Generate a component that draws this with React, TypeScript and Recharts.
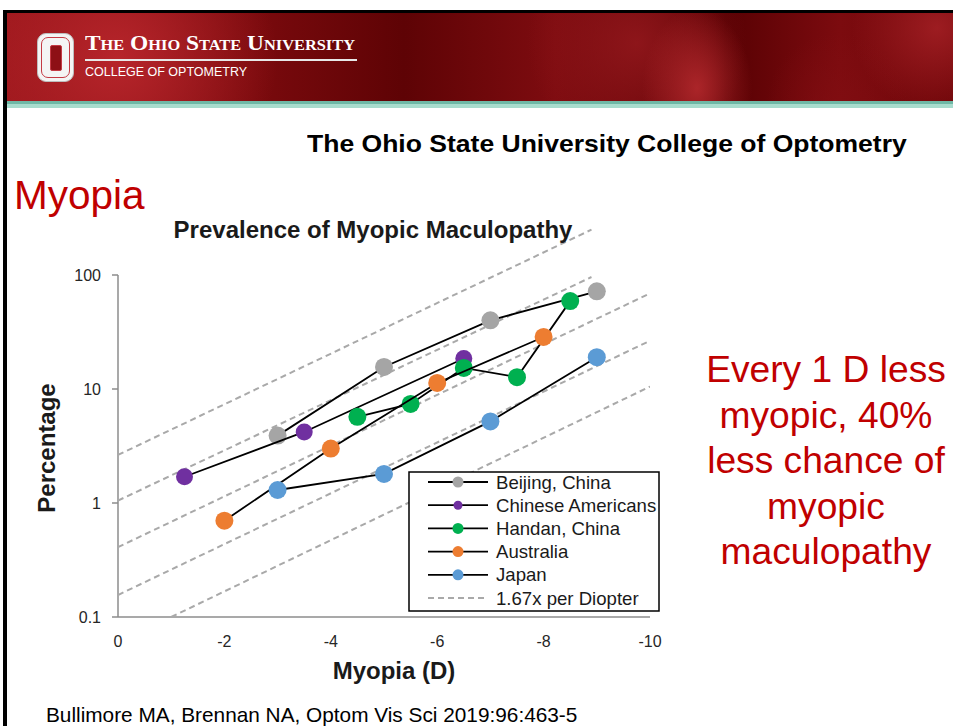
import React from 'react'
import { ScatterChart, Scatter, XAxis, YAxis, ReferenceLine } from 'recharts'

const FONT = '"Liberation Sans", Arial, Helvetica, sans-serif'

// myopia (D) vs prevalence of myopic maculopathy (%)
const beijingX = [-3, -5, -7, -9]
const beijingY = [3.9, 15.6, 40, 72]
const chineseAmX = [-1.25, -3.5, -6.5]
const chineseAmY = [1.7, 4.2, 18.5]
const handanX = [-4.5, -5.5, -6.5, -7.5, -8.5]
const handanY = [5.7, 7.4, 15.3, 12.7, 59]
const australiaX = [-2, -4, -6, -8]
const australiaY = [0.7, 3, 11.3, 28.6]
const japanX = [-3, -5, -7, -9]
const japanY = [1.3, 1.8, 5.2, 19]

// 1.67x per diopter guide lines (start, end)
const guideX = [[0, -8.9], [0, -8.9], [0, -10], [0, -10], [-1, -10]]
const guideY = [[2.64, 250], [1.05, 96], [0.41, 69], [0.156, 26.5], [0.1, 10.5]]

const xTicks = [0, -2, -4, -6, -8, -10]
const yTicks = [0.1, 1, 10, 100]

const seriesNames = ['Beijing, China', 'Chinese Americans', 'Handan, China', 'Australia', 'Japan']
const seriesColors = ['#a5a5a5', '#7030a0', '#00b050', '#ed7d31', '#5b9bd5']
const guideName = '1.67x per Diopter'

const zip = (xs: number[], ys: number[]) => xs.map((x, i) => ({ x, y: ys[i] }))

const series = [
  zip(beijingX, beijingY),
  zip(chineseAmX, chineseAmY),
  zip(handanX, handanY),
  zip(australiaX, australiaY),
  zip(japanX, japanY),
].map((data, i) => ({ data, name: seriesNames[i], color: seriesColors[i] }))

const guides = guideX.map((xs, i) => zip(xs, guideY[i]))

const AXIS = '#8c8c8c'
const GUIDE = '#a9a9a9'

const dot = (color: string, r: number) => (p: any) =>
  <circle cx={p.cx} cy={p.cy} r={r} fill={color} />

function Legend() {
  const rowY = (i: number) => 11 + i * 23.2
  return (
    <svg width={252} height={141} style={{ position: 'absolute', left: 408, top: 471, overflow: 'visible' }}>
      <rect x={1} y={1} width={250} height={139} fill="#fff" stroke="#000" strokeWidth={1.5} />
      {seriesNames.map((n, i) => (
        <g key={n}>
          <line x1={20} x2={80} y1={rowY(i)} y2={rowY(i)} stroke="#000" strokeWidth={1.8} />
          <circle cx={50} cy={rowY(i)} r={i === 1 ? 4.5 : 5.5} fill={seriesColors[i]} />
          <text x={88} y={rowY(i)} dominantBaseline="central" fontFamily={FONT} fontSize={18.6} fill="#1a1a1a">{n}</text>
        </g>
      ))}
      <line x1={20} x2={80} y1={rowY(5)} y2={rowY(5)} stroke={GUIDE} strokeWidth={2} strokeDasharray="6 4" />
      <text x={88} y={rowY(5)} dominantBaseline="central" fontFamily={FONT} fontSize={18.6} fill="#1a1a1a">{guideName}</text>
    </svg>
  )
}

function Banner() {
  return (
    <>
      <div style={{ position: 'absolute', left: 3, top: 10, width: 950, height: 3, background: '#000' }} />
      <div style={{ position: 'absolute', left: 3, top: 10, width: 4, height: 716, background: '#000' }} />
      <div
        style={{
          position: 'absolute', left: 7, top: 13, width: 946, height: 88,
          background: [
            'radial-gradient(circle at 110px 45px, rgba(185,38,44,0.95) 0, rgba(185,38,44,0) 160px)',
            'radial-gradient(ellipse 55px 80px at 690px 75px, rgba(178,40,44,0.9) 0, rgba(178,40,44,0) 100%)',
            'radial-gradient(circle at 630px 30px, rgba(150,25,30,0.8) 0, rgba(150,25,30,0) 110px)',
            'radial-gradient(circle at 930px 15px, rgba(165,32,37,0.85) 0, rgba(165,32,37,0) 85px)',
            'radial-gradient(circle at 830px 90px, rgba(130,14,18,0.7) 0, rgba(130,14,18,0) 70px)',
            'linear-gradient(90deg, #9a161b 0%, #7a0a0d 26%, #5e0305 42%, #7e0c10 58%, #580103 76%, #7c0b0f 88%, #6e0609 100%)',
          ].join(','),
        }}
      />
      <div style={{ position: 'absolute', left: 7, top: 101, width: 946, height: 3, background: '#6fb8a6' }} />
      <div style={{ position: 'absolute', left: 7, top: 104, width: 946, height: 4, background: '#a8dccd' }} />
      {/* block O */}
      <div style={{ position: 'absolute', left: 37, top: 33, width: 37, height: 49, background: '#f4f4f4', border: '1px solid #bdbdbd', borderRadius: 9, boxSizing: 'border-box' }}>
        <div style={{ position: 'absolute', left: 3, top: 3, right: 3, bottom: 3, border: '1.5px solid #c43a44', borderRadius: 7 }} />
        <div style={{ position: 'absolute', left: 12, top: 11, width: 10, height: 24, background: '#8e1015', border: '1.5px solid #c43a44', borderRadius: 2 }} />
      </div>
      <div style={{ position: 'absolute', left: 85, top: 33, color: '#fff', fontFamily: '"Liberation Serif", "DejaVu Serif", serif', fontWeight: 700, fontSize: 20, lineHeight: '20px', fontVariant: 'small-caps', whiteSpace: 'nowrap', transform: 'scaleX(1.17)', transformOrigin: 'left center' }}>
        The Ohio State University
      </div>
      <div style={{ position: 'absolute', left: 85, top: 59, width: 272, height: 1.5, background: '#e8e8e8' }} />
      <div style={{ position: 'absolute', left: 85, top: 66, color: '#fff', fontFamily: FONT, fontSize: 12.5, lineHeight: '12px', whiteSpace: 'nowrap' }}>
        COLLEGE OF OPTOMETRY
      </div>
    </>
  )
}

export default function App() {
  return (
    <div style={{ position: 'absolute', left: 0, top: 0, width: 953, height: 726, background: '#fff', overflow: 'hidden', fontFamily: FONT }}>
      <Banner />
      <div style={{ position: 'absolute', left: 307, top: 132, fontWeight: 700, fontSize: 24, lineHeight: '24px', color: '#000', whiteSpace: 'nowrap', transform: 'scaleX(1.105)', transformOrigin: 'left center' }}>
        The Ohio State University College of Optometry
      </div>
      <div style={{ position: 'absolute', left: 14, top: 175, fontSize: 40.5, lineHeight: '40px', color: '#c00000', whiteSpace: 'nowrap' }}>
        Myopia
      </div>
      <div style={{ position: 'absolute', left: 696, top: 347, width: 260, textAlign: 'center', fontSize: 37.2, lineHeight: '45.5px', color: '#c00000', whiteSpace: 'nowrap' }}>
        Every 1 D less<br />myopic, 40%<br />less chance of<br />myopic<br />maculopathy
      </div>
      <div style={{ position: 'absolute', left: 46, top: 704, fontSize: 20.8, lineHeight: '21px', color: '#000', whiteSpace: 'nowrap' }}>
        Bullimore MA, Brennan NA, Optom Vis Sci 2019:96:463-5
      </div>

      <div style={{ position: 'absolute', left: 0, top: 140 }}>
        <ScatterChart width={700} height={540} margin={{ top: 21, right: 50, bottom: 33, left: 58 }}>
          <XAxis
            type="number" dataKey="x" domain={[-10, 0]} reversed ticks={xTicks} interval={0}
            axisLine={{ stroke: AXIS, strokeWidth: 1.5 }} tickLine={false} tickSize={6} tickMargin={13} height={30}
            tick={{ fill: '#262626', fontSize: 16, fontFamily: FONT }} allowDataOverflow
          />
          <YAxis
            type="number" dataKey="y" scale="log" domain={[0.1, 1000]} ticks={yTicks} interval={0}
            axisLine={false} tickLine={{ stroke: AXIS, strokeWidth: 1.5 }} tickSize={6} tickMargin={11} width={60}
            tick={{ fill: '#262626', fontSize: 16, fontFamily: FONT }} allowDataOverflow
          />
          <ReferenceLine segment={[{ x: 0, y: 0.1 }, { x: 0, y: 100 }]} stroke={AXIS} strokeWidth={1.5} ifOverflow="visible" />
          {guides.map((g, i) => (
            <Scatter
              key={'g' + i} data={g} isAnimationActive={false} legendType="none"
              shape={() => <g />}
              line={{ stroke: GUIDE, strokeWidth: 2, strokeDasharray: '6 4' }}
            />
          ))}
          {series.map(s => (
            <Scatter
              key={s.name} name={s.name} data={s.data} fill={s.color} isAnimationActive={false}
              shape={dot(s.color, s.name === 'Chinese Americans' ? 8.5 : 9)}
              line={{ stroke: '#000', strokeWidth: 1.8 }}
            />
          ))}
        </ScatterChart>
      </div>

      <div style={{ position: 'absolute', left: 373, top: 218, transform: 'translateX(-50%)', fontWeight: 700, fontSize: 24, lineHeight: '24px', color: '#1a1a1a', whiteSpace: 'nowrap' }}>
        Prevalence of Myopic Maculopathy
      </div>
      <div style={{ position: 'absolute', left: 394, top: 659, transform: 'translateX(-50%)', fontWeight: 700, fontSize: 24, lineHeight: '24px', color: '#1a1a1a', whiteSpace: 'nowrap' }}>
        Myopia (D)
      </div>
      <div style={{ position: 'absolute', left: 47, top: 448, transform: 'translate(-50%, -50%) rotate(-90deg)', fontWeight: 700, fontSize: 24, lineHeight: '24px', color: '#1a1a1a', whiteSpace: 'nowrap' }}>
        Percentage
      </div>

      <Legend />
    </div>
  )
}
